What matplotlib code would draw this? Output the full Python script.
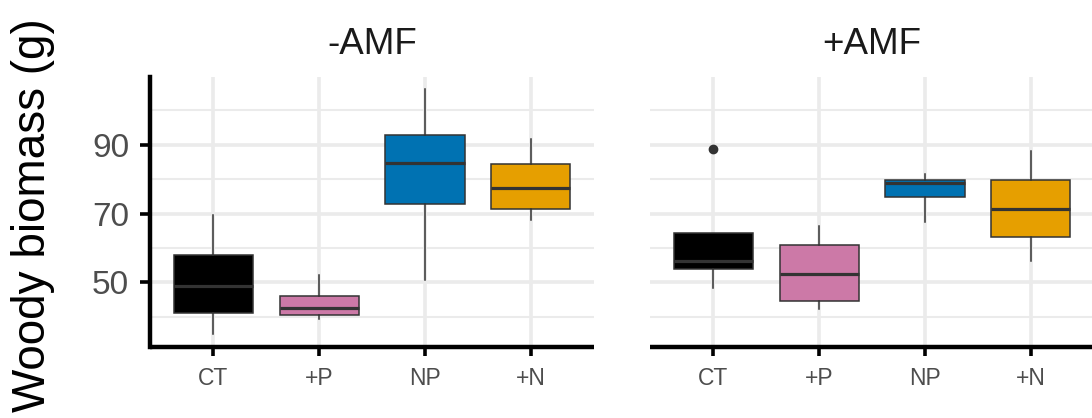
import matplotlib
matplotlib.use("Agg")
import matplotlib.pyplot as plt
import numpy as np

plt.rcParams["font.family"] = ["Liberation Sans", "DejaVu Sans"]

# Treatments and panels
groups = ["CT", "+P", "NP", "+N"]
facets = ["-AMF", "+AMF"]
fill_colors = ["#000000", "#CC79A7", "#0072B2", "#E69F00"]

# Box summaries (g) for -AMF
minus_lo = [34.9, 39.3, 50.7, 68.1]
minus_q1 = [41.0, 40.5, 72.9, 71.3]
minus_med = [48.9, 42.5, 84.7, 77.4]
minus_q3 = [58.1, 46.0, 92.9, 84.4]
minus_hi = [69.7, 52.1, 106.2, 91.7]
minus_out = [[], [], [], []]

# Box summaries (g) for +AMF
plus_lo = [48.5, 42.2, 67.6, 56.2]
plus_q1 = [53.8, 44.5, 74.7, 63.2]
plus_med = [56.1, 52.4, 78.8, 71.4]
plus_q3 = [64.5, 61.0, 79.8, 79.8]
plus_hi = [64.5, 66.3, 81.5, 88.1]
plus_out = [[88.7], [], [], []]

y_breaks = [50, 70, 90]
y_minor = [40, 60, 80, 100]

panels = [
    (minus_lo, minus_q1, minus_med, minus_q3, minus_hi, minus_out),
    (plus_lo, plus_q1, plus_med, plus_q3, plus_hi, plus_out),
]

# shared y range with 5% padding
all_vals = []
for p in panels:
    for arr in p[:5]:
        all_vals += list(arr)
    for o in p[5]:
        all_vals += list(o)
vmin, vmax = min(all_vals), max(all_vals)
pad = 0.05 * (vmax - vmin)
ylim = (vmin - pad, vmax + pad)

W, H = 1092, 418
fig = plt.figure(figsize=(W / 100, H / 100), dpi=100)

ax_w = 444 / W
ax_h = (346.7 - 76.7) / H
ax_b = 1 - 346.7 / H
lefts = [150 / W, 650 / W]

grid_col = "#EBEBEB"
edge_col = "#333333"

for i, (lo, q1, med, q3, hi, out) in enumerate(panels):
    ax = fig.add_axes([lefts[i], ax_b, ax_w, ax_h])
    ax.set_xlim(0.4, len(groups) + 0.6)
    ax.set_ylim(*ylim)

    # grid
    for v in y_minor:
        ax.axhline(v, color=grid_col, lw=1.5, zorder=0)
    for v in y_breaks:
        ax.axhline(v, color=grid_col, lw=2.6, zorder=0)
    for x in range(1, len(groups) + 1):
        ax.axvline(x, color=grid_col, lw=2.6, zorder=0)

    stats = []
    for k in range(len(groups)):
        stats.append(dict(whislo=lo[k], q1=q1[k], med=med[k], q3=q3[k],
                          whishi=hi[k], fliers=out[k], label=groups[k]))
    bp = ax.bxp(stats, positions=range(1, len(groups) + 1), widths=0.75,
                patch_artist=True, showcaps=False,
                boxprops=dict(edgecolor=edge_col, linewidth=1.1),
                whiskerprops=dict(color=edge_col, linewidth=1.1),
                medianprops=dict(color=edge_col, linewidth=2.3),
                flierprops=dict(marker="o", markerfacecolor=edge_col,
                                markeredgecolor=edge_col, markersize=6))
    for patch, c in zip(bp["boxes"], fill_colors):
        patch.set_facecolor(c)
        patch.set_zorder(2)

    for s in ["top", "right"]:
        ax.spines[s].set_visible(False)
    ax.spines["bottom"].set_linewidth(3.2)
    ax.spines["bottom"].set_color("black")
    ax.spines["bottom"].set_capstyle("butt")
    ax.set_xticks(range(1, len(groups) + 1))
    ax.set_xticklabels(groups)
    ax.tick_params(axis="x", length=6.5, width=2.6, color="black",
                   labelsize=16.5, labelcolor="#4D4D4D", pad=8)
    ax.set_yticks(y_breaks)
    if i == 0:
        ax.spines["left"].set_linewidth(3.2)
        ax.spines["left"].set_color("black")
        ax.set_yticklabels([str(v) for v in y_breaks])
        ax.tick_params(axis="y", length=7, width=2.6, color="black",
                       labelsize=24, labelcolor="#4D4D4D", pad=8)
    else:
        ax.spines["left"].set_visible(False)
        ax.tick_params(axis="y", length=0, labelleft=False)
    ax.set_facecolor("white")
    ax.set_title(facets[i], fontsize=26.5, color="#1A1A1A", pad=16)

fig.text(33 / W, 1 - 215 / H, "Woody biomass (g)", rotation=90,
         ha="center", va="center", fontsize=33, color="black")

fig.savefig("out.png", dpi=100)
